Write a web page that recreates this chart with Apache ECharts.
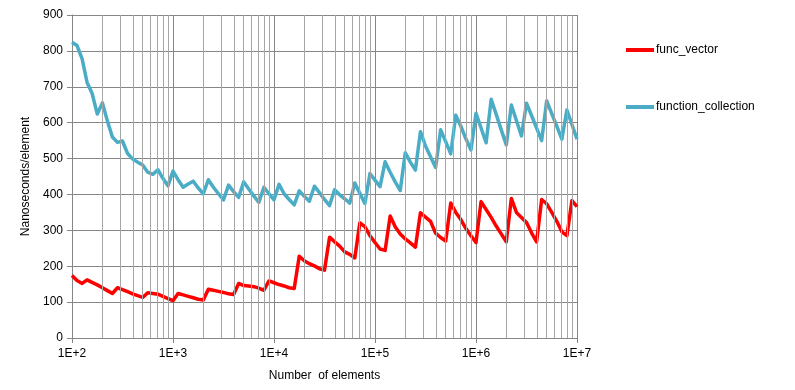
<!DOCTYPE html>
<html>
<head>
<meta charset="utf-8">
<script src="https://cdn.jsdelivr.net/npm/echarts@6/dist/echarts.min.js"></script>
<style>
html,body{margin:0;padding:0;background:#fff;}
#chart{width:795px;height:390px;}
</style>
</head>
<body>
<div id="chart"></div>
<script>
// Number of elements (x values, log scale)
const elementCounts = [
  100,112,126,141,158,178,200,224,251,282,316,355,398,447,501,562,631,708,794,891,
  1000,1122,1259,1413,1585,1778,1995,2239,2512,2818,3162,3548,3981,4467,5012,5623,6310,7079,7943,8913,
  10000,11220,12590,14130,15850,17780,19950,22390,25120,28180,31620,35480,39810,44670,50120,56230,63100,70790,79430,89130,
  100000,112200,125900,141300,158500,177800,199500,223900,251200,281800,316200,354800,398100,446700,501200,562300,631000,707900,794300,891300,
  1000000,1122000,1259000,1413000,1585000,1778000,1995000,2239000,2512000,2818000,3162000,3548000,3981000,4467000,5012000,5623000,6310000,7079000,7943000,8913000,
  10000000
];

// func_vector (ns/element)
const funcVector = [
  174,160,152,162,155,148,140,132,124,140,135,129,123,118,113,126,124,122,116,110,
  104,124,120,116,112,108,106,136,133,130,127,123,121,152,146,145,143,139,133,159,
  154,149,145,140,138,228,215,207,201,193,189,281,268,256,240,233,223,321,310,285,
  266,248,244,340,310,290,276,265,253,349,337,325,292,280,270,376,350,330,305,285,
  266,380,358,336,312,290,268,389,350,336,322,293,268,386,374,350,325,296,285,383,
  366
];

// function_collection (ns/element)
const functionCollection = [
  824,815,778,712,682,624,655,605,560,545,549,514,499,490,482,462,456,469,445,424,
  465,441,420,429,437,418,402,441,420,402,385,426,408,392,435,415,396,378,420,402,
  385,428,402,386,371,410,395,381,423,405,386,369,413,399,388,376,432,403,375,458,
  440,422,491,462,435,411,516,490,468,575,535,505,475,580,547,513,621,590,555,524,
  626,585,544,665,623,580,538,649,606,563,654,620,585,550,661,625,590,554,635,595,
  554
];

const seriesNames = ['func_vector', 'function_collection'];
const xMajor = [100,1000,10000,100000,1000000,10000000];
const minorMultipliers = [2,3,4,5,6,7,8,9];

const minorLines = [];
xMajor.slice(0, -1).forEach(d => minorMultipliers.forEach(m => minorLines.push({ xAxis: d * m })));

const font = 'Liberation Sans, Arial, sans-serif';
const chart = echarts.init(document.getElementById('chart'), null, { renderer: 'canvas' });

chart.setOption({
  animation: false,
  backgroundColor: '#ffffff',
  textStyle: { fontFamily: font },
  grid: { left: 72, right: 218, top: 15, bottom: 52, containLabel: false },
  legend: {
    data: seriesNames,
    orient: 'vertical',
    left: 621,
    top: 39,
    itemGap: 45,
    itemWidth: 28,
    itemHeight: 4,
    icon: 'rect',
    textStyle: { fontFamily: font, fontSize: 12, color: '#000', padding: [0,0,0,-3] }
  },
  xAxis: {
    type: 'log',
    logBase: 10,
    min: 100,
    max: 10000000,
    name: 'Number  of elements',
    nameLocation: 'middle',
    nameGap: 32,
    nameTextStyle: { fontFamily: font, fontSize: 12, color: '#000' },
    axisLine: { show: true, lineStyle: { color: '#868686', width: 1 } },
    axisTick: { show: true, length: 5, lineStyle: { color: '#868686' } },
    axisLabel: {
      margin: 10, fontFamily: font, fontSize: 12, color: '#000',
      formatter: v => '1E+' + Math.round(Math.log10(v))
    },
    splitLine: { show: true, lineStyle: { color: '#868686', width: 1 } }
  },
  yAxis: {
    type: 'value',
    min: 0,
    max: 900,
    interval: 100,
    name: 'Nanoseconds/element',
    nameLocation: 'middle',
    nameGap: 30,
    nameTextStyle: { fontFamily: font, fontSize: 12, color: '#000' },
    axisLine: { show: true, lineStyle: { color: '#868686', width: 1 } },
    axisTick: { show: true, length: 5, lineStyle: { color: '#868686' } },
    axisLabel: { margin: 9, fontFamily: font, fontSize: 12, color: '#000' },
    splitLine: { show: true, lineStyle: { color: '#868686', width: 1 } }
  },
  series: [
    {
      name: '_minor',
      type: 'line',
      data: [],
      z: 1,
      silent: true,
      markLine: {
        silent: true,
        symbol: ['none','none'],
        label: { show: false },
        lineStyle: { color: '#a6a6a6', width: 1, type: 'solid' },
        data: minorLines
      }
    },
    {
      name: seriesNames[0],
      type: 'line',
      z: 3,
      showSymbol: false,
      symbol: 'none',
      color: '#ff0000',
      lineStyle: { color: '#ff0000', width: 3.5, join: 'round' },
      data: elementCounts.map((x, i) => [x, funcVector[i]])
    },
    {
      name: seriesNames[1],
      type: 'line',
      z: 3,
      showSymbol: false,
      symbol: 'none',
      color: '#4bacc6',
      lineStyle: { color: '#4bacc6', width: 3.5, join: 'round' },
      data: elementCounts.map((x, i) => [x, functionCollection[i]])
    }
  ]
});
</script>
</body>
</html>
